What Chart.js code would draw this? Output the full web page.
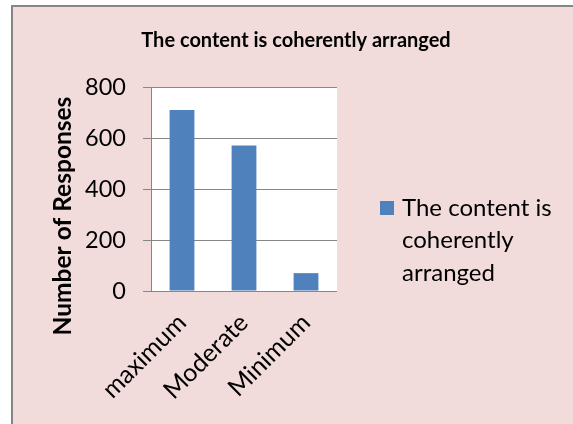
<!DOCTYPE html>
<html><head><meta charset="utf-8">
<script src="https://cdn.jsdelivr.net/npm/chart.js@4.4.1/dist/chart.umd.min.js"></script>
<style>html,body{margin:0;padding:0;background:#fff;overflow:hidden}#wrap{position:absolute;left:0;top:0;width:573px;height:424px}</style>
</head><body><div id="wrap"><canvas id="c" width="573" height="424"></canvas></div>
<script>
const categories = ['maximum', 'Moderate', 'Minimum'];
const seriesName = 'The content is coherently arranged';
const values = [710, 571, 70];
const yTicks = [0, 200, 400, 600, 800];
const chartTitle = 'The content is coherently arranged';
const yAxisTitle = 'Number of Responses';
const legendLines = ['The content is', 'coherently', 'arranged'];

const FONT = 'Lato, "Open Sans", sans-serif';
const PINK = '#F2DCDB';
const GRAY = '#868686';
const BLUE = '#4F81BD';

const decor = {
  id: 'decor',
  beforeDraw(chart) {
    const ctx = chart.ctx, a = chart.chartArea;
    ctx.save();
    ctx.fillStyle = '#fff';
    ctx.fillRect(0, 0, chart.width, chart.height);
    ctx.fillStyle = PINK;
    ctx.fillRect(12, 6, chart.width, chart.height);
    ctx.strokeStyle = GRAY;
    ctx.lineWidth = 2;
    ctx.beginPath();
    ctx.moveTo(12, chart.height + 5);
    ctx.lineTo(12, 6);
    ctx.lineTo(chart.width + 5, 6);
    ctx.stroke();
    ctx.fillStyle = '#fff';
    ctx.fillRect(a.left, a.top, a.right - a.left, a.bottom - a.top);
    ctx.restore();
  },
  afterDraw(chart) {
    const ctx = chart.ctx;
    ctx.save();
    ctx.fillStyle = '#000';
    // title
    ctx.font = 'bold 20px ' + FONT;
    ctx.textAlign = 'center';
    ctx.textBaseline = 'middle';
    ctx.fillText(chartTitle, 296, 41);
    // y axis title
    ctx.save();
    ctx.translate(63, 216);
    ctx.rotate(-Math.PI / 2);
    ctx.font = 'bold 24.5px ' + FONT;
    ctx.fillText(yAxisTitle, 0, 0);
    ctx.restore();
    // legend
    const ds = chart.data.datasets[0];
    ctx.fillStyle = ds.backgroundColor;
    ctx.fillRect(380, 201, 14, 14);
    ctx.fillStyle = '#000';
    ctx.font = '24px ' + FONT;
    ctx.textAlign = 'left';
    ctx.textBaseline = 'alphabetic';
    legendLines.forEach((t, i) => ctx.fillText(t, 402, 216 + i * 32.3));
    ctx.restore();
  }
};

new Chart(document.getElementById('c'), {
  type: 'bar',
  data: {
    labels: categories,
    datasets: [{
      label: seriesName,
      data: values,
      backgroundColor: BLUE,
      barPercentage: 0.4,
      categoryPercentage: 1.0
    }]
  },
  options: {
    responsive: false,
    animation: false,
    devicePixelRatio: 1,
    layout: { padding: { left: 0, top: 87, right: 236, bottom: 0 } },
    plugins: { legend: { display: false }, title: { display: false }, tooltip: { enabled: false } },
    scales: {
      x: {
        grid: { display: false, drawTicks: false },
        border: { display: false },
        ticks: {
          autoSkip: false, minRotation: 45, maxRotation: 45,
          font: { family: FONT, size: 25 }, color: '#000', padding: 17
        },
        afterFit(s) { s.height = 133; }
      },
      y: {
        min: 0, max: 800,
        afterBuildTicks(s) { s.ticks = yTicks.map(v => ({ value: v })); },
        grid: { color: GRAY, lineWidth: 1, tickLength: 8, drawTicks: true },
        border: { display: true, color: GRAY, width: 1 },
        ticks: { font: { family: FONT, size: 23.5 }, color: '#000', padding: 17 },
        afterFit(s) { s.width = 151; }
      }
    }
  },
  plugins: [decor]
});
</script>
</body></html>
